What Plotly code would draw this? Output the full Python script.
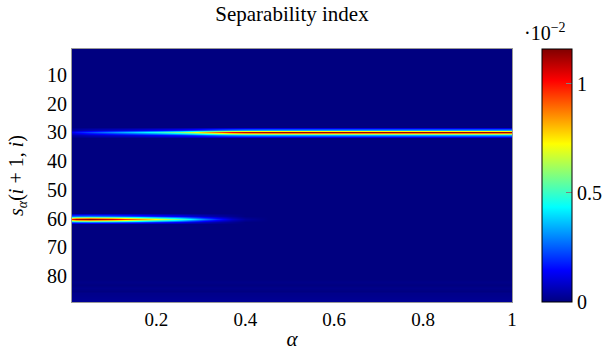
import plotly.graph_objects as go

# ---- data ----
alpha = [0.01, 0.02, 0.05, 0.1, 0.15, 0.2, 0.25, 0.28, 0.31, 0.34, 0.37, 0.4,
         0.45, 0.5, 0.6, 0.7, 0.8, 0.9, 1.0]
rows = list(range(1, 90))

row30_vals = [0.0012, 0.0016, 0.0022, 0.0030, 0.0038, 0.0046, 0.0058, 0.0068,
              0.0080, 0.0092, 0.0102, 0.0108, 0.0111, 0.0112, 0.0112, 0.0112,
              0.0112, 0.0112, 0.0112]
row30_side = [0.0004, 0.0005, 0.0007, 0.0009, 0.0011, 0.0014, 0.0017, 0.0020,
              0.0024, 0.0028, 0.0031, 0.0033, 0.0034, 0.0034, 0.0034, 0.0034,
              0.0034, 0.0034, 0.0034]
row60_vals = [0.0100, 0.0110, 0.0114, 0.0106, 0.0090, 0.0072, 0.0054, 0.0041,
              0.0028, 0.0017, 0.0008, 0.0003, 0.0, 0.0, 0.0, 0.0, 0.0, 0.0, 0.0]
row60_side = [0.0026, 0.0028, 0.0029, 0.0027, 0.0023, 0.0018, 0.0014, 0.0010,
              0.0007, 0.0004, 0.0002, 0.0, 0.0, 0.0, 0.0, 0.0, 0.0, 0.0, 0.0]
faint_rows = [82, 84, 86, 87, 88, 89]
faint_level = [0.00008, 0.0001, 0.00012, 0.00015, 0.0002, 0.00025]

z_max = 0.0116
cbar_tickvals = [0, 0.005, 0.01]
cbar_ticktext = ["0", "0.5", "1"]
x_tickvals = [0.2, 0.4, 0.6, 0.8, 1.0]
x_ticktext = ["0.2", "0.4", "0.6", "0.8", "1"]
y_tickvals = [10, 20, 30, 40, 50, 60, 70, 80]

# ---- build matrix ----
z = [[0.0 for _ in alpha] for _ in rows]
for j in range(len(alpha)):
    z[30 - 1][j] = row30_vals[j]
    z[29 - 1][j] = row30_side[j]
    z[31 - 1][j] = row30_side[j]
    z[60 - 1][j] = row60_vals[j]
    z[59 - 1][j] = row60_side[j]
    z[61 - 1][j] = row60_side[j]
for r, lv in zip(faint_rows, faint_level):
    for j in range(len(alpha)):
        z[r - 1][j] = lv

jet = [
    [0.0, "rgb(0,0,128)"],
    [0.125, "rgb(0,0,255)"],
    [0.375, "rgb(0,255,255)"],
    [0.625, "rgb(255,255,0)"],
    [0.875, "rgb(255,0,0)"],
    [1.0, "rgb(128,0,0)"],
]

FONT = "Liberation Serif"

fig = go.Figure(go.Heatmap(
    x=alpha, y=rows, z=z, zmin=0, zmax=z_max, colorscale=jet,
    zsmooth="best", hoverinfo="skip",
    colorbar=dict(
        x=1.068, xanchor="left", y=0.5, yanchor="middle", len=1.0,
        lenmode="fraction", thickness=30, thicknessmode="pixels",
        outlinewidth=1, outlinecolor="black", xpad=0, ypad=0,
        tickvals=cbar_tickvals, ticktext=cbar_ticktext,
        ticks="inside", ticklen=6, tickcolor="gray",
        tickfont=dict(family=FONT, size=20, color="black"),
    ),
))

fig.update_layout(
    width=607, height=351,
    margin=dict(l=72, r=95, t=49, b=49, autoexpand=False),
    paper_bgcolor="white", plot_bgcolor="white",
    font=dict(family=FONT, size=20, color="black"),
    title=dict(text="Separability index", x=0.5, xref="paper", xanchor="center",
               y=0.962, yanchor="middle", font=dict(family=FONT, size=21)),
    xaxis=dict(range=[0.01, 1.0], tickvals=x_tickvals, ticktext=x_ticktext,
               showgrid=False, zeroline=False, showline=True, linecolor="#999",
               linewidth=1, mirror=True, ticks="", automargin=False,
               tickfont=dict(family=FONT, size=19),
               title=dict(text="<i>α</i>", standoff=4,
                          font=dict(family=FONT, size=21))),
    yaxis=dict(range=[89, 1], tickvals=y_tickvals, showgrid=False,
               zeroline=False, showline=True, linecolor="#999", linewidth=1,
               mirror=True, ticks="", automargin=False,
               title=dict(text="<i>s</i><sub><i>α</i></sub>(<i>i</i> + 1, <i>i</i>)",
                          standoff=18, font=dict(family=FONT, size=20))),
    annotations=[dict(text="·10<sup>−2</sup>", x=1.023, xref="paper", y=1.0,
                      yref="paper", xanchor="left", yanchor="bottom",
                      yshift=3, showarrow=False,
                      font=dict(family=FONT, size=20, color="black"))],
)

fig.write_html("out.html",
               config={"displayModeBar": False, "staticPlot": True},
               post_script="document.body.style.margin='0';"
                           "document.body.style.padding='0';")
